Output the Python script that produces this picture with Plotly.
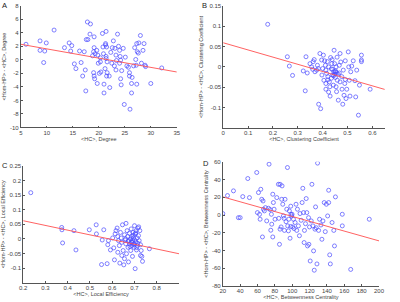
import plotly.graph_objects as go

# ---------- Panel A: Degree ----------
A_x = [6.0, 8.7, 8.7, 9.6, 9.4, 9.9, 11.4, 13.4, 14.3, 14.8, 14.6, 15.3, 15.6, 16.3, 16.6, 16.9, 17.2, 17.6,
       17.9, 17.4, 17.5, 17.8, 18.4, 18.3, 19.1, 19.0, 19.3, 19.1, 19.0, 19.1, 19.2, 19.6, 19.8, 19.9, 19.7,
       20.3, 20.3, 20.4, 20.7, 20.8, 20.9, 21.0, 21.2, 21.4, 21.3, 21.3, 21.5, 21.4, 21.4, 21.6, 21.5, 21.6,
       22.0, 21.0, 22.1, 22.5, 22.6, 22.8, 23.1, 23.3, 23.4, 23.3, 23.6, 23.8, 24.0, 24.1, 24.2, 24.0, 24.2,
       24.4, 24.3, 24.9, 25.1, 25.4, 25.7, 25.9, 25.9, 26.0, 26.3, 26.3, 26.4, 26.7, 26.9, 27.1, 27.2, 27.3,
       27.4, 27.6, 27.3, 27.7, 28.0, 28.2, 28.5, 28.7, 28.9, 29.0, 30.0, 32.1, 18.8, 22.3, 23.0, 20.1, 24.7]
A_y = [2.3, 2.8, 1.4, 1.3, -0.4, 2.5, 4.4, 1.8, 2.5, 2.1, 1.3, -0.6, -1.3, 1.3, -0.4, -2.4, 1.2, 3.0,
       3.0, -1.5, -4.6, 5.6, 5.3, 3.8, 1.8, 1.2, 0.9, 3.4, -1.9, -2.4, -2.8, 1.4, 0.7, -0.5, -3.5,
       0.3, -0.3, -1.8, 3.9, 1.9, 0.9, -3.6, -1.3, 4.2, 2.4, 2.2, 1.9, 0.5, 0.2, -0.3, -2.4, -1.9,
       -2.4, -4.9, -4.1, -0.5, 1.8, 2.8, 1.7, 0.7, -0.1, -1.5, 3.8, 2.0, 1.4, 0.5, -0.05, -0.5, -2.8,
       -1.6, -3.7, -6.6, 0.4, -0.9, -1.1, -1.9, -2.4, -7.3, -3.5, -4.9, -2.6, -0.9, 1.8, 0.05, -0.8, 2.4,
       1.2, 1.0, -3.6, 2.5, 3.6, -0.5, 1.4, 2.4, -0.8, -1.0, -3.5, -1.2, 0.6, 1.1, -0.9, -2.0, 1.7]
A_fit_x = [5, 35]
A_fit_y = [2.3, -1.8]

# ---------- Panel B: Clustering Coefficient ----------
B_x = [0.179, 0.258, 0.266, 0.279, 0.322, 0.333, 0.330, 0.338, 0.349, 0.356, 0.360, 0.362, 0.366, 0.369,
       0.376, 0.379, 0.383, 0.384, 0.392, 0.389, 0.396, 0.397, 0.400, 0.403, 0.405, 0.408, 0.411, 0.413,
       0.413, 0.416, 0.419, 0.421, 0.424, 0.427, 0.430, 0.432, 0.435, 0.438, 0.440, 0.443, 0.446, 0.448,
       0.450, 0.451, 0.454, 0.456, 0.454, 0.459, 0.462, 0.463, 0.467, 0.470, 0.470, 0.473, 0.477, 0.478,
       0.481, 0.483, 0.486, 0.489, 0.491, 0.491, 0.494, 0.497, 0.503, 0.505, 0.507, 0.510, 0.513, 0.517,
       0.523, 0.530, 0.533, 0.537, 0.544, 0.548, 0.556, 0.556, 0.556, 0.591, 0.440, 0.445, 0.448, 0.456,
       0.435, 0.467, 0.421, 0.429, 0.413, 0.424, 0.452, 0.444, 0.437, 0.458]
B_y = [0.105, 0.025, 0.002, -0.021, -0.010, 0.025, -0.059, -0.015, 0.008, 0.0, -0.006, 0.013, 0.018, -0.012,
       -0.008, 0.004, -0.004, -0.092, -0.103, 0.033, 0.017, -0.020, -0.004, 0.029, -0.033, 0.015, 0.004, -0.008,
       -0.041, -0.016, 0.013, -0.024, 0.0, -0.037, -0.072, 0.023, -0.005, 0.018, -0.020, -0.045, 0.041, 0.008,
       -0.012, -0.026, 0.0, -0.061, -0.049, -0.033, -0.018, -0.082, 0.004, -0.037, 0.033, 0.012, -0.024, -0.055,
       -0.092, -0.008, -0.070, -0.041, 0.015, -0.031, -0.078, -0.055, 0.037, 0.0, -0.033, -0.072, -0.012, 0.002,
       0.015, -0.034, -0.074, -0.008, -0.119, -0.045, 0.029, 0.017, 0.013, -0.055, -0.006, -0.012, -0.018, -0.014,
       -0.028, -0.015, -0.032, -0.049, -0.055, -0.062, -0.010, -0.022, 0.008, 0.024]
B_fit_x = [0.0, 0.65]
B_fit_y = [0.0595, -0.0556]

# ---------- Panel C: Local Efficiency ----------
C_x = [0.234, 0.373, 0.374, 0.377, 0.428, 0.437, 0.497, 0.528, 0.529, 0.552, 0.555, 0.562, 0.577, 0.580,
       0.583, 0.592, 0.602, 0.607, 0.610, 0.613, 0.617, 0.622, 0.625, 0.628, 0.632, 0.634, 0.637, 0.640,
       0.643, 0.646, 0.649, 0.652, 0.655, 0.658, 0.661, 0.662, 0.664, 0.667, 0.670, 0.671, 0.673, 0.676,
       0.677, 0.679, 0.682, 0.683, 0.685, 0.686, 0.688, 0.689, 0.691, 0.692, 0.694, 0.695, 0.697, 0.698,
       0.700, 0.701, 0.703, 0.704, 0.706, 0.707, 0.709, 0.712, 0.713, 0.715, 0.718, 0.719, 0.721, 0.724,
       0.727, 0.730, 0.733, 0.736, 0.727, 0.767, 0.643, 0.655, 0.625, 0.690, 0.700, 0.680, 0.672, 0.710,
       0.695, 0.660, 0.705, 0.715]
C_y = [0.158, 0.039, 0.031, -0.014, 0.028, -0.038, 0.031, 0.048, 0.017, -0.088, -0.004, 0.031, -0.085, -0.020,
       -0.006, -0.038, 0.003, -0.031, -0.072, 0.017, 0.028, 0.037, 0.008, -0.006, -0.023, -0.083, 0.022, 0.003,
       -0.012, 0.048, -0.040, -0.089, 0.014, -0.004, -0.017, 0.053, -0.051, 0.028, 0.008, -0.029, -0.079, -0.006,
       0.019, -0.017, 0.0, -0.040, 0.034, -0.011, 0.008, -0.023, -0.060, -0.006, 0.022, 0.003, -0.017, -0.029,
       0.045, -0.004, -0.102, 0.017, -0.011, 0.028, -0.038, 0.003, -0.023, 0.037, 0.011, 0.041, -0.006, 0.028,
       -0.020, -0.040, -0.060, -0.077, -0.057, -0.034, -0.057, -0.068, -0.046, -0.012, -0.020, -0.026, -0.008, -0.030,
       0.012, 0.000, 0.020, -0.015]
C_fit_x = [0.2, 0.9]
C_fit_y = [0.062, -0.051]

# ---------- Panel D: Betweenness Centrality ----------
D_x = [20.0, 25.4, 32.3, 38.0, 40.0, 43.0, 48.8, 50.7, 59.1, 59.9, 61.1, 62.3, 63.0, 63.8, 64.9, 65.7, 66.4,
       66.8, 67.9, 69.1, 70.6, 72.6, 73.3, 74.5, 75.3, 76.0, 76.4, 77.6, 77.6, 78.3, 79.1, 80.2, 82.2, 84.1,
       84.5, 85.3, 86.0, 86.0, 87.2, 87.9, 88.3, 89.1, 89.8, 90.6, 91.0, 91.7, 92.9, 93.7, 94.5, 94.8, 95.6,
       96.0, 96.7, 97.5, 98.3, 98.3, 98.6, 99.4, 99.8, 100.6, 101.4, 102.1, 103.3, 104.4, 105.2, 106.0, 107.1,
       108.3, 109.0, 110.3, 111.4, 112.2, 113.0, 113.7, 114.1, 115.3, 116.1, 116.8, 117.6, 118.8, 119.2, 119.9,
       120.7, 121.9, 122.7, 123.8, 124.6, 125.4, 126.2, 126.9, 127.7, 128.5, 129.2, 130.4, 131.5, 133.1, 134.2,
       135.4, 136.9, 138.1, 139.3, 140.8, 142.0, 142.0, 143.2, 143.9, 145.9, 147.9, 148.7, 149.8, 157.7, 157.7,
       167.4, 188.8]
D_y = [1.7, 22.0, 27.3, -2.9, -2.9, 20.8, 41.2, 19.7, 48.0, 2.8, 25.4, 0.8, -4.7, 29.1, 17.8, -24.7, 15.9,
       6.6, 4.7, 8.4, -6.6, 7.7, 57.4, 6.2, -17.1, 0.9, -10.3, 23.5, -24.7, 14.1, 6.6, -4.7, 19.7, 34.7,
       -3.7, -33.0, 34.7, -15.9, -13.4, 17.8, 32.9, 12.2, -1.0, -3.7, -17.3, 17.8, -7.5, 6.6, 53.6, -12.2, -17.8,
       -4.7, 4.7, -26.1, 10.0, -12.9, 0.9, -1.0, 0.9, -13.4, -4.7, -15.2, -8.4, 12.2, -17.3, 6.6, -12.2,
       -23.3, 1.7, -5.9, 14.1, 30.2, 2.8, -31.0, -17.3, -9.7, 18.6, 2.8, -34.8, -2.9, -33.0, -13.4,
       -51.8, -6.6, 34.7, -12.2, -40.4, -62.2, -15.9, 9.2, -14.3, -55.1, 58.6, -17.3, -4.7, -11.2, -27.3,
       -6.6, 14.1, -18.7, 12.2, -1.0, 28.0, 14.1, -44.9, -55.1, -8.4, -17.3, -34.8, 20.5, 0.9, -12.2,
       -61.3, -4.7]
D_fit_x = [20, 200]
D_fit_y = [20.5, -29.1]

# ---------- Text ----------
panel_letters = ["A", "B", "C", "D"]
x_titles = ["<HC>, Degree", "<HC>, Clustering Coefficient", "<HC>, Local Efficiency",
            "<HC>, Betweenness Centrality"]
y_titles = ["<Hom-HP> - <HC>, Degree", "<Hom-HP> - <HC>, Clustering Coefficient",
            "<Hom-HP> - <HC>, Local Efficiency", "<Hom-HP> - <HC>, Betweenness Centrality"]

A_xticks = [5, 10, 15, 20, 25, 30, 35]
A_yticks = [-10, -8, -6, -4, -2, 0, 2, 4, 6, 8]
B_xticks = [0, 0.1, 0.2, 0.3, 0.4, 0.5, 0.6]
B_yticks = [-0.1, -0.05, 0, 0.05, 0.1, 0.15]
C_xticks = [0.2, 0.3, 0.4, 0.5, 0.6, 0.7, 0.8]
C_yticks = [-0.1, -0.05, 0, 0.05, 0.1, 0.15, 0.2, 0.25]
D_xticks = [20, 40, 60, 80, 100, 120, 140, 160, 180, 200]
D_yticks = [-80, -60, -40, -20, 0, 20, 40, 60]

def fmt(v):
    return "%g" % v

panels = [
    (A_x, A_y, A_fit_x, A_fit_y, [5, 35], [-10, 8], A_xticks, A_yticks),
    (B_x, B_y, B_fit_x, B_fit_y, [0, 0.65], [-0.15, 0.15], B_xticks, B_yticks),
    (C_x, C_y, C_fit_x, C_fit_y, [0.2, 0.9], [-0.15, 0.25], C_xticks, C_yticks),
    (D_x, D_y, D_fit_x, D_fit_y, [20, 200], [-80, 60], D_xticks, D_yticks),
]

# layout geometry (paper fractions)
W, H = 400, 302
x_domains = [[0.052, 0.442], [0.558, 0.962], [0.058, 0.4475], [0.557, 0.9475]]
y_domains = [[0.578, 0.981], [0.577, 0.980], [0.064, 0.451], [0.053, 0.464]]
letter_px = [(4.5, 6), (204, 6), (4.5, 165), (205.5, 163)]

fig = go.Figure()
layout = dict(width=W, height=H, margin=dict(l=0, r=0, t=0, b=0),
              template="none",
              paper_bgcolor="white", plot_bgcolor="white", showlegend=False,
              font=dict(family="Liberation Sans, Arial, sans-serif", size=6, color="#333"))
annotations = []
for i, (xs, ys, fx, fy, xr, yr, xt, yt) in enumerate(panels):
    n = "" if i == 0 else str(i + 1)
    fig.add_trace(go.Scatter(x=xs, y=ys, mode="markers", xaxis="x" + n, yaxis="y" + n,
                             marker=dict(symbol="circle-open", size=4, color="#4a4aff",
                                         line=dict(width=0.7, color="#4a4aff"))))
    fig.add_trace(go.Scatter(x=fx, y=fy, mode="lines", xaxis="x" + n, yaxis="y" + n,
                             line=dict(color="#ff5050", width=0.9)))
    common = dict(showgrid=False, zeroline=False, showline=True, linecolor="#555", linewidth=0.8,
                  ticks="inside", ticklen=2, tickcolor="#555", tickwidth=0.6, automargin=False,
                  tickfont=dict(size=6, color="#444"), mirror=False)
    layout["xaxis" + n] = dict(common, domain=x_domains[i], range=xr, anchor="y" + n,
                               tickvals=xt, ticktext=[fmt(v) for v in xt], ticklabelstandoff=-1,
                               title=dict(text=x_titles[i], font=dict(size=5.5, color="#444"), standoff=1))
    layout["yaxis" + n] = dict(common, domain=y_domains[i], range=yr, anchor="x" + n,
                               tickvals=yt, ticktext=[fmt(v) for v in yt],
                               title=dict(text=y_titles[i], font=dict(size=5.5, color="#444"), standoff=3))
    annotations.append(dict(text=panel_letters[i], x=letter_px[i][0] / W, y=1 - letter_px[i][1] / H,
                            xref="paper", yref="paper", xanchor="center", yanchor="middle",
                            showarrow=False, font=dict(size=7.5, color="#222")))
layout["annotations"] = annotations
fig.update_layout(**layout)
fig.write_html("out.html", config={"displayModeBar": False},
               post_script="document.body.style.margin='0';document.body.style.overflow='hidden';")
